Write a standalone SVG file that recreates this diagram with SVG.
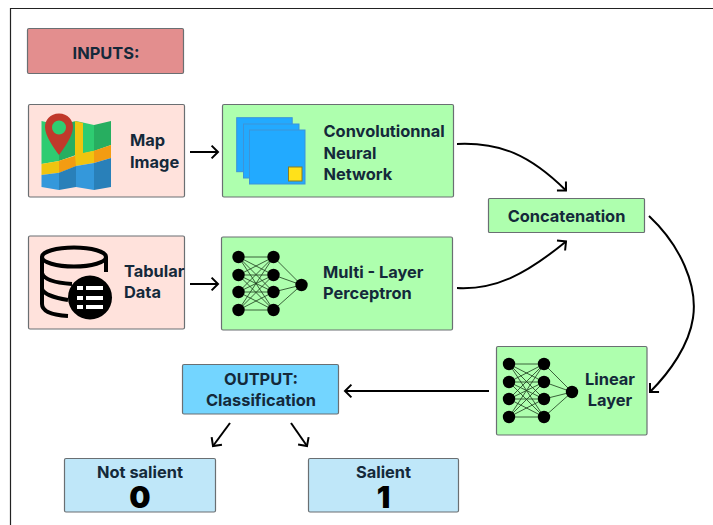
<svg xmlns="http://www.w3.org/2000/svg" width="713" height="525" viewBox="0 0 713 525" xmlns:xlink="http://www.w3.org/1999/xlink">
<style>
.box{stroke:#6a6f72;stroke-width:1.2}
.red{fill:#e38e8e}.pink{fill:#ffe2dc}.green{fill:#aeffae}.blue{fill:#73d5ff}.light{fill:#bfe7f9}
text{font-family:"Inter","Liberation Sans",sans-serif;font-weight:700;font-size:16.4px;fill:#14293a}
.c{text-anchor:middle}
.num{font-size:30px;font-weight:900;fill:#000}
.conn{fill:none;stroke:#000;stroke-width:2;marker-end:url(#arrow)}
.nnl{stroke:#1c3a1c;stroke-width:.8}
</style>
<defs>
<marker id="arrow" markerUnits="userSpaceOnUse" markerWidth="20" markerHeight="20" refX="11" refY="10" orient="auto">
<path d="M4.600 3.600L11 10L4.600 16.400" fill="none" stroke="#000" stroke-width="2"/>
</marker>
<g id="nn">
<path class="nnl" d="M0 0L35 0M0 0L35 18M0 0L35 35M0 0L35 53M0 18L35 0M0 18L35 18M0 18L35 35M0 18L35 53M0 35L35 0M0 35L35 18M0 35L35 35M0 35L35 53M0 53L35 0M0 53L35 18M0 53L35 35M0 53L35 53M35 0L63 28M35 18L63 28M35 35L63 28M35 53L63 28"/>
<g fill="#000"><circle cx="0" cy="0" r="6.200"/><circle cx="0" cy="18" r="6.200"/><circle cx="0" cy="35" r="6.200"/><circle cx="0" cy="53" r="6.200"/><circle cx="35" cy="0" r="6.200"/><circle cx="35" cy="18" r="6.200"/><circle cx="35" cy="35" r="6.200"/><circle cx="35" cy="53" r="6.200"/><circle cx="63" cy="28" r="6.200"/></g>
</g>
</defs>
<rect width="713" height="525" fill="#fff"/>
<path d="M10.500 525V8.500H713" fill="none" stroke="#222" stroke-width="1.200"/>

<g id="connectors">
<path class="conn" d="M190 152H218"/>
<path class="conn" d="M190 284H218"/>
<path class="conn" d="M457 144C500 142 530 155 566 190.500"/>
<path class="conn" d="M457 288C495 290 525 275 566 241.500"/>
<path class="conn" d="M649 216C680 245 698 285 693 318C689 345 670 372 650 392"/>
<path class="conn" d="M489 391H345"/>
<path class="conn" d="M230 423L213 446"/>
<path class="conn" d="M291 423L307 446"/>
</g>

<g id="inputs"><rect class="box red" x="27.500" y="28.500" width="156" height="45" rx="1.500"/><text class="c" x="106" y="59">INPUTS:</text></g>

<g id="map-image">
<rect class="box pink" x="28.500" y="104.500" width="156" height="92.500" rx="1.500"/>
<path fill="#2ecc71" d="M41.500 121L59 125V161L41.500 164ZM76 121L94 125V151L76 155Z"/>
<path fill="#27ae60" d="M59 125L76 121V155L59 161ZM94 125L111 121V145L94 151Z"/>
<path fill="#f1c40f" d="M75 121L83 123V153L94 150.700V163L76 166L59 172.700L41.500 175V164L59 161L75 156Z"/>
<path fill="#f39c12" d="M59 161L75 156L76 166L59 172.700ZM94 150.700L111 145V158L94 163Z"/>
<path fill="#3498db" d="M41.500 175L59 172.700V190L41.500 187ZM76 166L94 163V190L76 187Z"/>
<path fill="#2980b9" d="M59 172.700L76 166V187L59 190ZM94 163L111 158V187L94 190Z"/>
<circle cx="59" cy="127.500" r="8" fill="#2ecc71"/>
<path fill="#c0392b" fill-rule="evenodd" d="M59 113.500C68 113.500 73 120 73 127C73 136 64 148 59 155C54 148 45 136 45 127C45 120 50 113.500 59 113.500ZM59 120.500A7 7 0 1 0 59 134.500A7 7 0 1 0 59 120.500Z"/>
<text x="130" y="146">Map</text><text x="130" y="168">Image</text>
</g>

<g id="cnn">
<rect class="box green" x="222.500" y="104.500" width="231" height="92.500" rx="1.500"/>
<g fill="#22aaff" stroke="#3d93d8" stroke-width="1"><rect x="236.700" y="117.700" width="55.500" height="54"/><rect x="243.500" y="124" width="55.500" height="54"/><rect x="249.500" y="130" width="55.500" height="54"/></g>
<rect x="288.500" y="167" width="13.500" height="14" fill="#ffe11a" stroke="#8a7d20"/>
<text x="323.500" y="137">Convolutionnal</text><text x="323.500" y="159">Neural</text><text x="323.500" y="180">Network</text>
</g>

<g id="tabular-data">
<rect class="box pink" x="28.500" y="236" width="156" height="93" rx="1.500"/>
<g fill="none" stroke="#000" stroke-width="4">
<ellipse cx="74" cy="257" rx="32" ry="9.500"/>
<path d="M42 257V304C42 311 52 315 68 316M106 257V272M42 273C44 280 56 283 72 284M42 289C44 295 56 298 68 300"/>
</g>
<circle cx="90" cy="297.500" r="22" fill="#000"/>
<g fill="#fff"><rect x="77" y="286" width="6" height="4"/><rect x="86" y="286" width="17" height="4"/><rect x="77" y="296" width="6" height="4"/><rect x="86" y="296" width="17" height="4"/><rect x="77" y="305" width="6" height="4"/><rect x="86" y="305" width="17" height="4"/></g>
<text x="124" y="277">Tabular</text><text x="124" y="298">Data</text>
</g>

<g id="mlp">
<rect class="box green" x="221.500" y="237" width="231" height="93" rx="1.500"/>
<use xlink:href="#nn" href="#nn" x="238.500" y="257"/>
<text x="323" y="278">Multi - Layer</text><text x="323" y="299">Perceptron</text>
</g>

<g id="concatenation"><rect class="box green" x="488.500" y="198.500" width="156" height="34" rx="1"/><text class="c" x="566.500" y="222">Concatenation</text></g>

<g id="linear-layer">
<rect class="box green" x="496.500" y="346.500" width="150.500" height="88.500" rx="1.500"/>
<use xlink:href="#nn" href="#nn" x="509" y="364"/>
<text class="c" x="610" y="385">Linear</text><text class="c" x="610" y="406">Layer</text>
</g>

<g id="output"><rect class="box blue" x="182.500" y="364.500" width="156" height="49.500" rx="1.500"/><text class="c" x="261" y="385">OUTPUT:</text><text class="c" x="261" y="406">Classification</text></g>

<g id="not-salient"><rect class="box light" x="64.500" y="458.500" width="151" height="53.500" rx="1.500"/><text class="c" x="140" y="478">Not salient</text><text class="c num" x="140" y="508">0</text></g>

<g id="salient"><rect class="box light" x="308.500" y="458.500" width="150" height="53.500" rx="1.500"/><text class="c" x="383.500" y="478">Salient</text><text class="c num" x="383.500" y="508">1</text></g>
</svg>
